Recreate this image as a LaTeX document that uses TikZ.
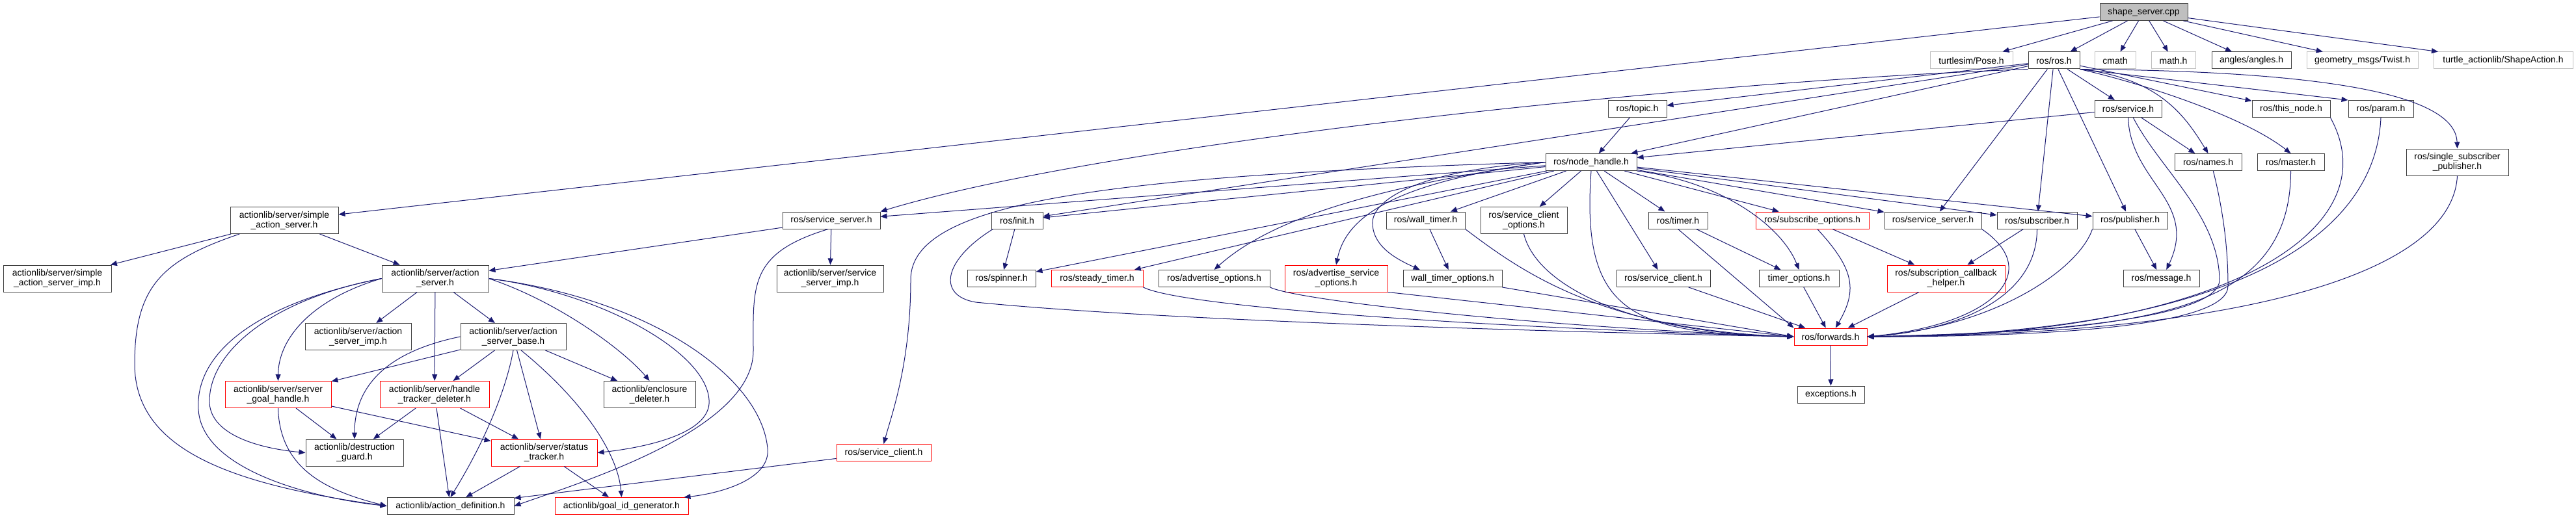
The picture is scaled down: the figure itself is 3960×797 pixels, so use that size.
\documentclass[tikz,border=0pt]{standalone}
\usepackage{fontspec}
\setmainfont{Liberation Sans}
\usetikzlibrary{arrows.meta}
\definecolor{edgeblue}{HTML}{191970}

\begin{document}
\begin{tikzpicture}[x=1pt, y=-1pt,
    hdr/.style={draw=black!75, line width=1pt, fill=white, inner sep=0pt,
        minimum height=26pt, align=center, font=\fontsize{14}{15}\selectfont},
    two/.style={minimum height=41pt},
    bw/.style={minimum width=#1pt},
    trunc/.style={hdr, draw=red},
    ext/.style={hdr, draw=black!25},
    root/.style={hdr, fill=black!25},
    incl/.style={edgeblue, line width=1pt, -{Triangle[length=10pt, width=8pt]}}
]
    \useasboundingbox (0,0) rectangle (3960,797);
    % Nos - topo
    \node[root, bw=135] (cpp) at (3295.5,18.5) {shape\_server.cpp};
    \node[ext, bw=127] (pose) at (3030.5,93) {turtlesim/Pose.h};
    \node[hdr, bw=79] (ros) at (3157.5,93) {ros/ros.h};
    \node[ext, bw=63] (cmath) at (3251.5,93) {cmath};
    \node[ext, bw=68] (math) at (3341,93) {math.h};
    \node[hdr, bw=122] (angles) at (3461,93) {angles/angles.h};
    \node[ext, bw=171] (twist) at (3631.5,93) {geometry\_msgs/Twist.h};
    \node[ext, bw=214] (shapeact) at (3848,93) {turtle\_actionlib/ShapeAction.h};
    % Nos - ros
    \node[hdr, bw=90] (topic) at (2517,167.5) {ros/topic.h};
    \node[hdr, bw=103] (service) at (3271.5,167.5) {ros/service.h};
    \node[hdr, bw=120] (thisnode) at (3522,167.5) {ros/this\_node.h};
    \node[hdr, bw=100] (param) at (3660,167.5) {ros/param.h};
    \node[hdr, bw=140] (nodehandle) at (2446,249.5) {ros/node\_handle.h};
    \node[hdr, bw=103] (names) at (3394.5,249.5) {ros/names.h};
    \node[hdr, bw=103] (master) at (3521.5,249.5) {ros/master.h};
    \node[hdr, two, bw=157] (singlesub) at (3777.5,249.5) {ros/single\_subscriber\\\_publisher.h};
    \node[hdr, bw=150] (svcsrvL) at (1278,339) {ros/service\_server.h};
    \node[hdr, bw=79] (init) at (1563.5,339) {ros/init.h};
    \node[hdr, bw=121] (walltimer) at (2191.5,339) {ros/wall\_timer.h};
    \node[hdr, two, bw=133] (sco) at (2342.5,339) {ros/service\_client\\\_options.h};
    \node[hdr, bw=91] (timer) at (2579.5,339) {ros/timer.h};
    \node[trunc, bw=174] (subopts) at (2786,339) {ros/subscribe\_options.h};
    \node[hdr, bw=149] (svcsrvR) at (2971.5,339) {ros/service\_server.h};
    \node[hdr, bw=123] (subscriber) at (3131.5,339) {ros/subscriber.h};
    \node[hdr, bw=115] (publisher) at (3274.5,339) {ros/publisher.h};
    \node[hdr, bw=105] (spinner) at (1539.5,428.5) {ros/spinner.h};
    \node[trunc, bw=141] (steady) at (1686.5,428.5) {ros/steady\_timer.h};
    \node[hdr, bw=171] (advopts) at (1866.5,428.5) {ros/advertise\_options.h};
    \node[trunc, two, bw=158] (advsvc) at (2054,428.5) {ros/advertise\_service\\\_options.h};
    \node[hdr, bw=152] (wtopts) at (2233,428.5) {wall\_timer\_options.h};
    \node[hdr, bw=144] (svcclientR) at (2557,428.5) {ros/service\_client.h};
    \node[hdr, bw=123] (timeropts) at (2765.5,428.5) {timer\_options.h};
    \node[trunc, two, bw=181] (subcb) at (2991.5,428.5) {ros/subscription\_callback\\\_helper.h};
    \node[hdr, bw=117] (message) at (3322.5,428.5) {ros/message.h};
    \node[trunc, bw=112] (forwards) at (2814,518) {ros/forwards.h};
    \node[hdr, bw=103] (exceptions) at (2814.5,607) {exceptions.h};
    % Nos - actionlib
    \node[hdr, two, bw=166] (simpleas) at (437,339) {actionlib/server/simple\\\_action\_server.h};
    \node[hdr, two, bw=166] (simpleimp) at (88,428.5) {actionlib/server/simple\\\_action\_server\_imp.h};
    \node[hdr, two, bw=164] (actsrv) at (669,428.5) {actionlib/server/action\\\_server.h};
    \node[hdr, two, bw=164] (svcimp) at (1276,428.5) {actionlib/server/service\\\_server\_imp.h};
    \node[hdr, two, bw=163] (actimp) at (550.5,518) {actionlib/server/action\\\_server\_imp.h};
    \node[hdr, two, bw=162] (actbase) at (789,518) {actionlib/server/action\\\_server\_base.h};
    \node[trunc, two, bw=163] (goalhandle) at (427.5,607) {actionlib/server/server\\\_goal\_handle.h};
    \node[trunc, two, bw=168] (htdeleter) at (668,607) {actionlib/server/handle\\\_tracker\_deleter.h};
    \node[hdr, two, bw=141] (enclosure) at (998.5,607) {actionlib/enclosure\\\_deleter.h};
    \node[hdr, two, bw=150] (guard) at (545,696.5) {actionlib/destruction\\\_guard.h};
    \node[trunc, two, bw=163] (status) at (836.5,696.5) {actionlib/server/status\\\_tracker.h};
    \node[trunc, bw=145] (svcclientL) at (1358.5,696.5) {ros/service\_client.h};
    \node[hdr, bw=195] (actdef) at (692.5,778.5) {actionlib/action\_definition.h};
    \node[trunc, bw=205] (goalid) at (955.5,778.5) {actionlib/goal\_id\_generator.h};

    % Arestas - shape_server.cpp
    \draw[incl] (cpp) -- (simpleas);
    \draw[incl] (cpp) -- (pose);
    \draw[incl] (cpp) -- (ros);
    \draw[incl] (cpp) -- (cmath);
    \draw[incl] (cpp) -- (math);
    \draw[incl] (cpp) -- (angles);
    \draw[incl] (cpp) -- (twist);
    \draw[incl] (cpp) -- (shapeact);
    % Arestas - ros/ros.h
    \draw[incl] (ros) -- (topic);
    \draw[incl] (ros) -- (nodehandle);
    \draw[incl] (ros) -- (service);
    \draw[incl] (ros) -- (init);
    \draw[incl] (ros.south west) .. controls (2600,125) and (1700,220) .. (svcsrvL.north east);
    \draw[incl] (ros) -- (svcsrvR);
    \draw[incl] (ros) -- (subscriber);
    \draw[incl] (ros) -- (publisher);
    \draw[incl] (ros) -- (thisnode);
    \draw[incl] (ros.south east) -- (param.north west);
    \draw[incl] (ros.south east) .. controls (3320,120) and (3360,180) .. (names.north);
    \draw[incl] (ros.south east) .. controls (3300,130) and (3450,180) .. (master.north);
    \draw[incl] (ros.south east) .. controls (3650,110) and (3775,160) .. (singlesub.north);
    % Arestas - ros/service.h
    \draw[incl] (service) -- (nodehandle);
    \draw[incl] (service) -- (names);
    \draw[incl] (service.south) .. controls (3275,280) and (3380,310) .. (message.60);
    \draw[incl] (service.-60) .. controls (3320,260) and (3410,330) .. (3412,430)
        .. controls (3414,500) and (3050,515) .. (forwards.east);
    % Arestas - ros/node_handle.h
    \draw[incl] (topic) -- (nodehandle);
    \draw[incl] (nodehandle) -- (walltimer);
    \draw[incl] (nodehandle) -- (sco);
    \draw[incl] (nodehandle) -- (timer);
    \draw[incl] (nodehandle) -- (svcclientR);
    \draw[incl] (nodehandle) -- (subopts);
    \draw[incl] (nodehandle) -- (svcsrvR);
    \draw[incl] (nodehandle) -- (subscriber);
    \draw[incl] (nodehandle) -- (publisher);
    \draw[incl] (nodehandle) -- (init);
    \draw[incl] (nodehandle) -- (svcsrvL);
    \draw[incl] (nodehandle) -- (spinner);
    \draw[incl] (nodehandle) -- (steady);
    \draw[incl] (nodehandle.west) .. controls (2100,290) and (1950,340) .. (advopts.north);
    \draw[incl] (nodehandle.west) .. controls (2150,280) and (2070,330) .. (advsvc.north);
    \draw[incl] (nodehandle.west) .. controls (2200,260) and (2115,300) .. (2110,340)
        .. controls (2108,380) and (2150,400) .. (wtopts.165);
    \draw[incl] (nodehandle.west) .. controls (1700,270) and (1400,310) .. (1400,430)
        .. controls (1400,560) and (1370,640) .. (svcclientL.north);
    \draw[incl] (nodehandle.south east) .. controls (2650,280) and (2740,350) .. (timeropts.north);
    \draw[incl] (nodehandle.south) .. controls +(-16,220) and +(-250,-5) .. (forwards.west);
    % Arestas - para ros/forwards.h
    \draw[incl] (init) -- (spinner);
    \draw[incl] (init.200) .. controls (1450,400) and (1440,455) .. (1500,465)
        .. controls (1800,495) and (2450,512) .. (forwards.west);
    \draw[incl] (steady.south east) .. controls +(60,30) and +(-500,-15) .. (forwards.west);
    \draw[incl] (advopts.south east) .. controls +(40,20) and +(-400,-15) .. (forwards.west);
    \draw[incl] (advsvc.south east) -- (forwards.west);
    \draw[incl] (walltimer) -- (wtopts);
    \draw[incl] (walltimer.south east) .. controls +(80,60) and +(-300,-10) .. (forwards.west);
    \draw[incl] (wtopts.south east) -- (forwards.west);
    \draw[incl] (sco.south) .. controls +(20,80) and +(-250,-5) .. (forwards.west);
    \draw[incl] (svcclientR) -- (forwards);
    \draw[incl] (timer) -- (timeropts);
    \draw[incl] (timer.south) -- (forwards.north west);
    \draw[incl] (timeropts) -- (forwards);
    \draw[incl] (subopts) -- (subcb);
    \draw[incl] (subopts.-60) .. controls +(55,60) and +(35,-60) .. (forwards.60);
    \draw[incl] (subscriber) -- (subcb);
    \draw[incl] (subcb) -- (forwards);
    \draw[incl] (svcsrvR.south east) .. controls (3145,420) and (3060,500) .. (forwards.east);
    \draw[incl] (subscriber.south) .. controls +(0,100) and +(150,-10) .. (forwards.east);
    \draw[incl] (publisher) -- (message);
    \draw[incl] (publisher.south west) .. controls +(-20,60) and +(200,-15) .. (forwards.east);
    \draw[incl] (names.-60) .. controls +(15,60) and +(0,-60) .. (3425,440)
        .. controls +(0,60) and +(300,0) .. (forwards.east);
    \draw[incl] (master.south) .. controls +(0,230) and +(400,-10) .. (forwards.east);
    \draw[incl] (thisnode.south east) .. controls (3680,360) and (3400,520) .. (forwards.east);
    \draw[incl] (param.south) .. controls (3650,400) and (3350,515) .. (forwards.east);
    \draw[incl] (singlesub.south) .. controls (3770,420) and (3450,515) .. (forwards.east);
    \draw[incl] (forwards) -- (exceptions);
    % Arestas - actionlib
    \draw[incl] (simpleas) -- (simpleimp);
    \draw[incl] (simpleas) -- (actsrv);
    \draw[incl] (simpleas.-163) .. controls (250,400) and (207,440) .. (207,560)
        .. controls (207,690) and (350,745) .. (actdef.west);
    \draw[incl] (svcsrvL) -- (actsrv);
    \draw[incl] (svcsrvL) -- (svcimp);
    \draw[incl] (svcsrvL.-110) .. controls (1150,390) and (1158,440) .. (1158,540)
        .. controls (1158,660) and (900,740) .. (actdef.east);
    \draw[incl] (svcclientL) -- (actdef);
    \draw[incl] (actsrv) -- (actimp);
    \draw[incl] (actsrv) -- (htdeleter);
    \draw[incl] (actsrv) -- (actbase);
    \draw[incl] (actsrv.east) .. controls (860,465) and (960,540) .. (enclosure.north);
    \draw[incl] (actsrv.east) .. controls (920,450) and (1085,540) .. (1090,615)
        .. controls (1095,670) and (980,690) .. (status.east);
    \draw[incl] (actsrv.east) .. controls (1000,460) and (1170,580) .. (1180,690)
        .. controls (1185,740) and (1100,760) .. (goalid.8);
    \draw[incl] (actsrv.west) .. controls (480,460) and (428,520) .. (goalhandle.north);
    \draw[incl] (actsrv.west) .. controls (420,460) and (320,540) .. (322,620)
        .. controls (325,670) and (400,690) .. (guard.west);
    \draw[incl] (actsrv.west) .. controls (380,470) and (300,550) .. (305,630)
        .. controls (310,720) and (470,765) .. (actdef.west);
    \draw[incl] (actbase) -- (htdeleter);
    \draw[incl] (actbase.south) .. controls (778,600) and (745,680) .. (actdef.north);
    \draw[incl] (actbase) -- (status);
    \draw[incl] (actbase.-60) .. controls (900,620) and (950,700) .. (goalid.north);
    \draw[incl] (actbase) -- (enclosure);
    \draw[incl] (actbase.west) .. controls (600,540) and (545,590) .. (guard.north);
    \draw[incl] (actbase) -- (goalhandle);
    \draw[incl] (htdeleter) -- (guard);
    \draw[incl] (htdeleter) -- (actdef);
    \draw[incl] (htdeleter) -- (status);
    \draw[incl] (goalhandle) -- (guard);
    \draw[incl] (goalhandle.south) .. controls (430,720) and (500,755) .. (actdef.west);
    \draw[incl] (goalhandle) -- (status);
    \draw[incl] (status) -- (actdef);
    \draw[incl] (status) -- (goalid);
\end{tikzpicture}
\end{document}
